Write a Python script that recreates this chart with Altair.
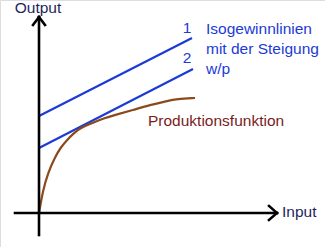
import altair as alt
import pandas as pd

# data coordinates: origin at the axes crossing
curve_x = [0, 4, 9, 16, 22, 28, 34, 40, 46, 53, 66, 76, 94, 111, 128, 138, 156]
curve_y = [0, 23, 40, 56, 66, 73, 79, 84, 87, 90, 95, 98, 103, 108, 112, 114, 115]

iso1_x = [0, 153]
iso1_y = [97, 175]
iso2_x = [0, 154]
iso2_y = [65, 144]

axis_segments = [  # (x, y, x2, y2)
    (0, -22, 0, 196),
    (-24, 0, 238, 0),
    (-6, 188, 0, 196),
    (6, 188, 0, 196),
    (230, 7, 238, 0),
    (230, -7, 238, 0),
]

labels = [
    # text, x, y, color, align
    ("Output", -1, 200, "#1f1f5e", "center"),
    ("Input", 243, -4, "#1f1f5e", "left"),
    ("Produktionsfunktion", 109, 87, "#7a1c1c", "left"),
    ("1", 148, 180, "#1c3ad6", "center"),
    ("2", 148, 150, "#1c3ad6", "center"),
    ("Isogewinnlinien", 167, 179, "#1c3ad6", "left"),
    ("mit der Steigung", 167, 159, "#1c3ad6", "left"),
    ("w/p", 167, 139, "#1c3ad6", "left"),
]

xs = alt.Scale(domain=[-39, 286], nice=False, zero=False)
ys = alt.Scale(domain=[-34, 213], nice=False, zero=False)

def X(f="x"):
    return alt.X(f"{f}:Q", scale=xs, axis=None)

def Y(f="y"):
    return alt.Y(f"{f}:Q", scale=ys, axis=None)

ax_df = pd.DataFrame(axis_segments, columns=["x", "y", "x2", "y2"])
axes = alt.Chart(ax_df).mark_rule(color="black", strokeWidth=2.6, strokeCap="square").encode(
    x=X(), y=Y(), x2="x2:Q", y2="y2:Q"
)

iso_df = pd.DataFrame({
    "x": iso1_x + iso2_x,
    "y": iso1_y + iso2_y,
    "g": ["1", "1", "2", "2"],
})
iso = alt.Chart(iso_df).mark_line(color="#1c3ad6", strokeWidth=2.2).encode(
    x=X(), y=Y(), detail="g:N"
)

curve_df = pd.DataFrame({"x": curve_x, "y": curve_y})
curve = alt.Chart(curve_df).mark_line(color="#8b4a1c", strokeWidth=2.2, interpolate="basis").encode(
    x=X(), y=Y()
)

texts = []
for t, x, y, c, a in labels:
    df = pd.DataFrame({"t": [t], "x": [x], "y": [y]})
    texts.append(
        alt.Chart(df).mark_text(
            font="Liberation Sans", fontSize=15.5, color=c, align=a, baseline="alphabetic"
        ).encode(x=X(), y=Y(), text="t:N")
    )

chart = alt.layer(iso, curve, axes, *texts).properties(
    width=325, height=247, padding=0, autosize=alt.AutoSizeParams(type="none")
).configure_view(stroke=None).configure(background="white")

chart.save("out.html", embed_options={"renderer": "svg", "actions": False})
